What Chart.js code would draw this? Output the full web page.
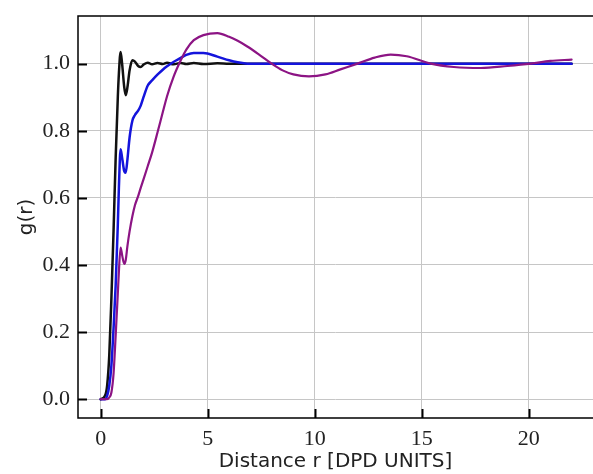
<!DOCTYPE html>
<html><head><meta charset="utf-8">
<script src="https://cdn.jsdelivr.net/npm/chart.js@4/dist/chart.umd.min.js"></script>
<style>html,body{margin:0;padding:0;background:#fff;} canvas{display:block;}</style>
</head><body>
<canvas id="c" width="593" height="474"></canvas>
<script>
// Data
const r = [0, 0.2, 0.3, 0.4, 0.5, 0.6, 0.7, 0.8, 0.85, 0.93,
  1.0, 1.1, 1.17, 1.25, 1.35, 1.48, 1.6, 1.75, 1.87, 2.0,
  2.2, 2.4, 2.65, 2.9, 3.1, 3.4, 3.74, 4.0, 4.35, 4.8,
  5.45, 6.0, 6.4, 6.85, 7.4, 7.94, 8.5, 9.0, 9.73, 10.5,
  11.2, 12.0, 12.8, 13.55, 14.3, 15.42, 16.5, 17.76, 19.0, 20.1,
  21.0, 22.0];
const gBlack = [0, 0.01, 0.04, 0.13, 0.3, 0.5, 0.72, 0.9, 0.97, 1.035,
  1.0, 0.93, 0.906, 0.93, 0.98, 1.01, 1.006, 0.993, 0.99, 0.997,
  1.003, 0.998, 1.002, 0.999, 1.003, 0.998, 1.002, 0.999, 1.002, 0.999,
  1.001, 1.0, 1.0, 1.0, 1.0, 1.0, 1.0, 1.0, 1.0, 1.0,
  1.0, 1.0, 1.0, 1.0, 1.0, 1.0, 1.0, 1.0, 1.0, 1.0,
  1.0, 1.0];
const gBlue = [0, 0.0, 0.01, 0.04, 0.1, 0.21, 0.34, 0.52, 0.63, 0.745,
  0.72, 0.68, 0.675, 0.715, 0.78, 0.83, 0.847, 0.86, 0.875, 0.9,
  0.935, 0.95, 0.967, 0.982, 0.992, 1.005, 1.017, 1.026, 1.032, 1.032,
  1.021, 1.01, 1.004, 1.0, 1.0, 1.0, 1.0, 1.0, 1.0, 1.0,
  1.0, 1.0, 1.0, 1.0, 1.0, 1.0, 1.0, 1.0, 1.0, 1.0,
  1.0, 1.0];
const gPurple = [0, 0.0, 0.0, 0.005, 0.02, 0.075, 0.19, 0.315, 0.38, 0.452,
  0.43, 0.403, 0.415, 0.457, 0.5, 0.545, 0.578, 0.605, 0.63, 0.655,
  0.695, 0.735, 0.794, 0.855, 0.903, 0.96, 1.01, 1.042, 1.07, 1.085,
  1.091, 1.08, 1.068, 1.051, 1.027, 1.002, 0.98, 0.968, 0.962, 0.968,
  0.983, 1.0, 1.018, 1.027, 1.022, 1.0, 0.99, 0.987, 0.993, 1.0,
  1.008, 1.012];
const xTicks = [0, 5, 10, 15, 20];
const xTickLabels = ['0', '5', '10', '15', '20'];
const yTicks = [0, 0.2, 0.4, 0.6, 0.8, 1.0];
const yTickLabels = ['0.0', '0.2', '0.4', '0.6', '0.8', '1.0'];
const xTitle = 'Distance r [DPD UNITS]';
const yTitle = 'g(r)';

function pts(ys) { return r.map((x, i) => ({ x: x, y: ys[i] })); }

const framePlugin = {
  id: 'frame',
  afterDatasetsDraw(chart) {
    const { ctx, chartArea: a, scales } = chart;
    const x = scales.x, y = scales.y;
    ctx.save();
    ctx.strokeStyle = '#000';
    ctx.lineWidth = 1.5;
    ctx.beginPath();
    ctx.moveTo(a.right + 3, a.top);
    ctx.lineTo(a.left, a.top);
    ctx.lineTo(a.left, a.bottom);
    ctx.lineTo(a.right + 3, a.bottom);
    ctx.stroke();
    ctx.lineWidth = 2;
    x.ticks.forEach(t => {
      const px = Math.round(x.getPixelForValue(t.value)) + 0.5;
      ctx.beginPath(); ctx.moveTo(px, a.bottom); ctx.lineTo(px, a.bottom - 9); ctx.stroke();
    });
    y.ticks.forEach(t => {
      const py = Math.round(y.getPixelForValue(t.value)) + 0.5;
      ctx.beginPath(); ctx.moveTo(a.left, py); ctx.lineTo(a.left + 9, py); ctx.stroke();
    });
    ctx.restore();
  }
};

const tickFont = { family: '"Liberation Serif", serif', size: 22 };
const titleFont = { family: '"DejaVu Sans", sans-serif', size: 20 };
const gridCol = '#c6c6c6';

function noPad(s) { s.paddingTop = 0; s.paddingBottom = 0; s.paddingLeft = 0; s.paddingRight = 0; }

new Chart(document.getElementById('c'), {
  type: 'line',
  data: {
    datasets: [
      { label: 'purple', data: pts(gPurple), borderColor: '#8c1484', borderWidth: 2.2 },
      { label: 'blue', data: pts(gBlue), borderColor: '#1414dc', borderWidth: 2.5 },
      { label: 'black', data: pts(gBlack), borderColor: '#111111', borderWidth: 2.5 }
    ]
  },
  options: {
    responsive: false,
    animation: false,
    elements: {
      point: { radius: 0 },
      line: { cubicInterpolationMode: 'monotone', borderJoinStyle: 'round', borderCapStyle: 'round', fill: false }
    },
    layout: { padding: { top: 16, right: 0, left: 0, bottom: 0 } },
    plugins: { legend: { display: false }, tooltip: { enabled: false } },
    scales: {
      x: {
        type: 'linear', min: -1.06, max: 23.0,
        afterBuildTicks: s => { s.ticks = xTicks.map(v => ({ value: v })); },
        afterFit: s => { s.height = 56; noPad(s); },
        ticks: { font: tickFont, color: '#222', padding: 8, maxRotation: 0,
          callback: (v) => xTickLabels[xTicks.indexOf(v)] },
        grid: { color: gridCol, lineWidth: 1, drawTicks: false },
        border: { display: false },
        title: { display: true, text: xTitle, font: titleFont, color: '#222', padding: { top: 0, bottom: 0 } }
      },
      y: {
        type: 'linear', min: -0.056, max: 1.142,
        afterBuildTicks: s => { s.ticks = yTicks.map(v => ({ value: v })); },
        afterFit: s => { s.width = 78; noPad(s); },
        ticks: { font: tickFont, color: '#222', padding: 8,
          callback: (v) => yTickLabels[yTicks.indexOf(v)] },
        grid: { color: gridCol, lineWidth: 1, drawTicks: false },
        border: { display: false },
        title: { display: true, text: yTitle, font: titleFont, color: '#222', padding: { top: 15, bottom: 0 } }
      }
    }
  },
  plugins: [framePlugin]
});
</script>
</body></html>
